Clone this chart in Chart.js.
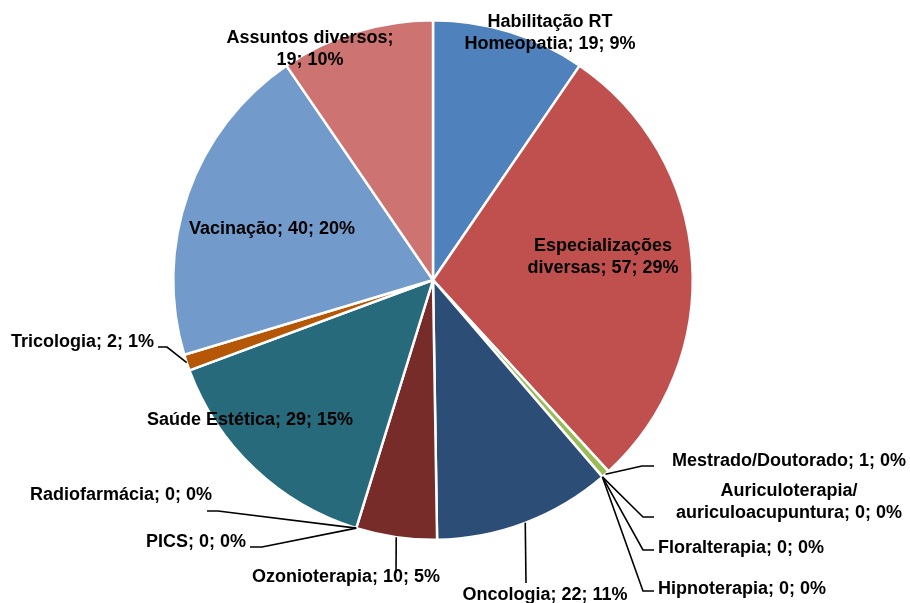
<!DOCTYPE html>
<html>
<head>
<meta charset="utf-8">
<script src="https://cdn.jsdelivr.net/npm/chart.js@4"></script>
<style>
  html, body { margin: 0; padding: 0; background: #ffffff; }
  #wrap { width: 910px; height: 603px; position: relative; }
</style>
</head>
<body>
<div id="wrap"><canvas id="c" width="910" height="603"></canvas></div>
<script>
// ---- data ----
const categories = [
  "Habilitação RT Homeopatia",
  "Especializações diversas",
  "Mestrado/Doutorado",
  "Auriculoterapia/ auriculoacupuntura",
  "Floralterapia",
  "Hipnoterapia",
  "Oncologia",
  "Ozonioterapia",
  "PICS",
  "Radiofarmácia",
  "Saúde Estética",
  "Tricologia",
  "Vacinação",
  "Assuntos diversos"
];
const values = [19, 57, 1, 0, 0, 0, 22, 10, 0, 0, 29, 2, 40, 19];
const percentLabels = ["9%", "29%", "0%", "0%", "0%", "0%", "11%", "5%", "0%", "0%", "15%", "1%", "20%", "10%"];

// ---- styling ----
const colors = ["#4F81BD", "#C0504D", "#9BBB59", "#8064A2", "#4BACC6", "#F79646",
                "#2C4D75", "#772C2A", "#5F7530", "#4D3B62", "#276A7C", "#B65708",
                "#729ACA", "#CD7371"];

// label placement: x,y = anchor, align, wrap = max line width, leader = elbow/end points
const labelLayout = [
  { x: 550, y: 22,  align: "center", wrap: 175 },
  { x: 603, y: 246, align: "center", wrap: 155 },
  { x: 672, y: 461, align: "left",   wrap: 400, leader: [[642, 466], [654, 466]] },
  { x: 789, y: 491, align: "center", wrap: 235, leader: [[643, 517], [654, 517]] },
  { x: 658, y: 548, align: "left",   wrap: 400, leader: [[643, 550], [654, 550]] },
  { x: 658, y: 589, align: "left",   wrap: 400, leader: [[643, 591], [654, 591]] },
  { x: 545, y: 595, align: "center", wrap: 400, leader: [[526, 583]] },
  { x: 346, y: 577, align: "center", wrap: 400, leader: [[396, 573]] },
  { x: 246, y: 542, align: "right",  wrap: 400, leader: [[262, 547], [250, 547]] },
  { x: 212, y: 495, align: "right",  wrap: 400, leader: [[218, 511], [207, 511]] },
  { x: 250, y: 420, align: "center", wrap: 400 },
  { x: 154, y: 342, align: "right",  wrap: 400, leader: [[167, 347], [158, 347]] },
  { x: 272, y: 229, align: "center", wrap: 400 },
  { x: 310, y: 38,  align: "center", wrap: 175 }
];

const FONT = "bold 18px 'Liberation Sans', Arial, sans-serif";
const LINE_H = 22;

function wrapText(ctx, text, maxW) {
  const words = text.split(" ");
  const lines = [];
  let cur = "";
  for (const w of words) {
    const test = cur ? cur + " " + w : w;
    if (cur && ctx.measureText(test).width > maxW) {
      lines.push(cur);
      cur = w;
    } else {
      cur = test;
    }
  }
  if (cur) lines.push(cur);
  return lines;
}

const labelPlugin = {
  id: "pieLabels",
  afterDraw(chart) {
    const ctx = chart.ctx;
    const meta = chart.getDatasetMeta(0);
    ctx.save();
    ctx.font = FONT;
    ctx.fillStyle = "#000000";
    ctx.textBaseline = "middle";
    meta.data.forEach((arc, i) => {
      const L = labelLayout[i];
      if (!L) return;
      const p = arc.getProps(["x", "y", "startAngle", "endAngle", "outerRadius"], true);
      const mid = (p.startAngle + p.endAngle) / 2;
      if (L.leader) {
        const sx = p.x + Math.cos(mid) * p.outerRadius;
        const sy = p.y + Math.sin(mid) * p.outerRadius;
        ctx.beginPath();
        ctx.strokeStyle = "#000000";
        ctx.lineWidth = 1.6;
        ctx.moveTo(sx, sy);
        L.leader.forEach(pt => ctx.lineTo(pt[0], pt[1]));
        ctx.stroke();
      }
      const text = categories[i] + "; " + values[i] + "; " + percentLabels[i];
      const lines = wrapText(ctx, text, L.wrap);
      ctx.textAlign = L.align;
      lines.forEach((ln, k) => {
        ctx.fillText(ln, L.x, L.y + k * LINE_H);
      });
    });
    ctx.restore();
  }
};

new Chart(document.getElementById("c"), {
  type: "pie",
  data: {
    labels: categories,
    datasets: [{
      data: values,
      backgroundColor: colors,
      borderColor: "#ffffff",
      borderWidth: (c) => (values[c.dataIndex] > 0 ? 2.5 : 0)
    }]
  },
  options: {
    responsive: false,
    animation: false,
    layout: { padding: { left: 172, right: 216, top: 19, bottom: 62 } },
    plugins: {
      legend: { display: false },
      tooltip: { enabled: false },
      title: { display: false }
    }
  },
  plugins: [labelPlugin]
});
</script>
</body>
</html>
